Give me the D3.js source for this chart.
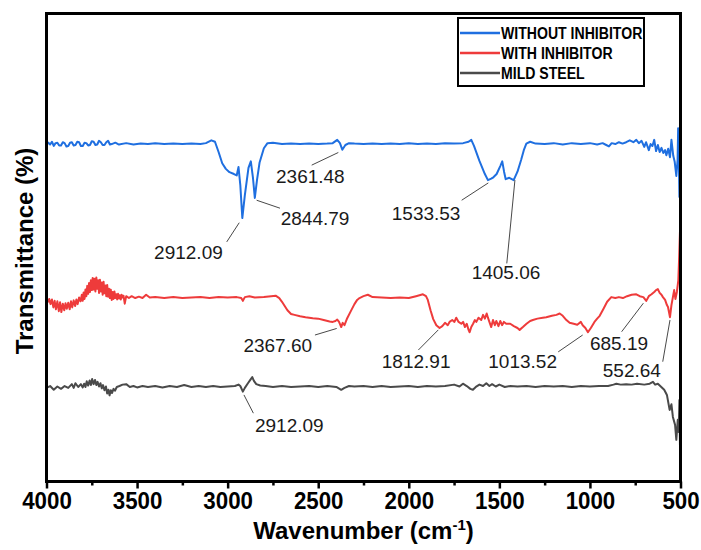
<!DOCTYPE html>
<html>
<head>
<meta charset="utf-8">
<script src="https://cdn.jsdelivr.net/npm/d3@7"></script>
<style>
  body { margin: 0; background: #fff; }
  text { font-family: "Liberation Sans", Arial, sans-serif; }
</style>
</head>
<body>
<div id="chart"></div>
<script>
// FTIR spectra, [wavenumber, transmittance (arb. %)]
var withoutInhibitor = [
  [4000,71.9],[3990,72.4],[3980,72.0],[3970,72.6],[3960,71.7],[3950,72.3],[3940,72.4],[3930,71.8],
  [3920,71.8],[3910,72.5],[3900,72.3],[3890,71.6],[3880,71.7],[3870,72.4],[3860,72.5],[3850,71.8],
  [3840,71.9],[3830,72.6],[3820,72.5],[3810,71.7],[3800,71.7],[3790,72.4],[3780,72.3],[3770,71.8],
  [3760,71.9],[3750,72.7],[3740,72.6],[3730,71.9],[3720,72.0],[3710,72.8],[3700,72.5],[3690,71.9],
  [3680,71.9],[3670,72.5],[3660,72.8],[3650,72.0],[3640,72.1],[3620,72.4],[3600,72.0],[3560,72.3],
  [3520,72.0],[3480,72.2],[3440,72.1],[3400,72.3],[3350,72.1],[3300,72.2],[3250,72.1],[3200,72.2],
  [3150,72.1],[3120,72.3],[3090,72.9],[3070,72.6],[3050,70.4],[3030,68.0],[3010,66.8],[2990,66.1],
  [2965,65.7],[2950,65.4],[2940,67.2],[2930,63.3],[2919,56.3],[2905,61.2],[2885,67.0],[2872,68.4],
  [2860,64.8],[2850,60.6],[2838,64.4],[2824,68.1],[2800,71.2],[2780,72.3],[2750,72.4],[2700,72.1],
  [2650,72.2],[2600,72.1],[2550,72.2],[2500,72.1],[2450,72.2],[2420,72.3],[2395,73.0],[2380,72.3],
  [2367,70.9],[2350,71.9],[2330,72.3],[2300,72.2],[2250,72.1],[2200,72.2],[2150,72.1],[2100,72.2],
  [2050,72.1],[2000,72.3],[1950,72.1],[1900,72.2],[1850,72.1],[1800,72.3],[1750,72.2],[1700,72.3],
  [1670,72.6],[1655,73.0],[1640,71.7],[1610,68.5],[1580,65.7],[1563,64.4],[1545,64.7],[1533,65.0],
  [1515,65.7],[1495,67.4],[1484,68.4],[1474,66.2],[1465,64.6],[1445,64.9],[1421,64.4],[1400,66.2],
  [1380,68.7],[1365,70.8],[1351,72.2],[1330,72.6],[1300,72.2],[1250,72.1],[1200,72.3],[1150,72.0],
  [1100,72.3],[1050,72.1],[1000,72.3],[960,72.0],[930,72.3],[910,71.9],[895,71.6],[880,72.3],
  [860,72.1],[840,72.5],[820,72.2],[800,72.5],[780,72.9],[760,72.5],[744,73.0],[730,72.3],
  [715,72.8],[700,71.5],[690,72.5],[675,70.8],[665,72.1],[655,71.7],[645,73.0],[635,70.6],
  [625,71.9],[615,70.4],[605,71.3],[595,70.2],[585,70.8],[578,69.7],[568,71.1],[558,69.3],
  [550,73.0],[540,69.6],[532,68.3],[523,65.3],[516,68.7],[513,75.5],[510,70.8],[506,60.8],
  [502,63.3],[500,62.3]
];
var withInhibitor = [
  [4000,39.2],[3992,38.4],[3985,39.0],[3978,37.9],[3970,38.9],[3962,37.2],[3955,38.6],[3948,36.8],
  [3940,38.5],[3932,36.4],[3925,38.3],[3918,36.2],[3910,38.0],[3902,36.6],[3895,38.1],[3888,36.9],
  [3880,38.2],[3872,36.8],[3865,38.5],[3858,37.2],[3850,38.7],[3842,37.5],[3835,38.9],[3828,37.9],
  [3820,39.3],[3812,38.5],[3805,39.9],[3800,38.6],[3795,40.4],[3790,39.0],[3785,41.0],[3780,39.6],
  [3775,41.8],[3770,40.1],[3765,42.4],[3760,40.5],[3755,43.0],[3750,40.9],[3745,43.5],[3740,41.0],
  [3735,43.3],[3730,40.6],[3725,43.6],[3720,41.2],[3715,43.0],[3710,40.3],[3705,43.1],[3700,40.6],
  [3695,42.5],[3690,39.9],[3685,42.7],[3680,40.2],[3675,41.9],[3670,39.6],[3665,42.0],[3660,39.5],
  [3655,41.2],[3650,39.2],[3645,41.0],[3640,38.8],[3635,40.5],[3630,39.0],[3625,40.6],[3620,39.2],
  [3615,40.0],[3610,38.9],[3605,40.1],[3600,39.1],[3595,39.8],[3590,38.9],[3585,39.9],[3580,39.3],
  [3575,39.7],[3568,38.0],[3560,39.6],[3545,39.2],[3530,39.6],[3510,39.2],[3490,39.5],[3470,39.2],
  [3450,39.9],[3430,39.3],[3400,39.4],[3350,39.2],[3300,39.4],[3250,39.2],[3200,39.3],[3150,39.4],
  [3100,39.2],[3050,39.4],[3000,39.3],[2950,39.4],[2925,39.2],[2916,38.6],[2905,39.4],[2880,39.6],
  [2850,39.3],[2800,39.4],[2760,39.6],[2735,39.7],[2715,39.2],[2700,38.4],[2685,37.5],[2670,36.6],
  [2650,35.8],[2631,35.6],[2600,35.3],[2570,35.1],[2530,34.9],[2500,34.8],[2470,34.5],[2437,34.2],
  [2420,34.1],[2405,34.3],[2395,34.6],[2385,34.1],[2373,33.0],[2365,33.9],[2355,33.4],[2340,34.9],
  [2320,36.4],[2300,37.9],[2285,38.8],[2272,39.2],[2250,39.6],[2226,39.9],[2200,39.4],[2150,39.3],
  [2100,39.2],[2050,39.3],[2000,39.2],[1960,39.6],[1922,40.0],[1905,39.6],[1895,38.8],[1880,36.6],
  [1865,34.7],[1848,33.4],[1830,32.8],[1815,33.2],[1800,33.9],[1785,33.4],[1775,34.1],[1760,34.5],
  [1748,34.1],[1738,35.0],[1725,34.1],[1710,33.7],[1700,34.1],[1690,33.0],[1680,33.7],[1670,32.4],
  [1664,31.9],[1655,33.0],[1645,33.7],[1635,34.5],[1627,34.1],[1615,35.0],[1600,34.5],[1590,35.6],
  [1580,34.8],[1570,35.9],[1563,35.0],[1555,34.1],[1545,33.0],[1535,34.5],[1525,33.4],[1517,34.3],
  [1505,33.2],[1495,34.3],[1485,33.4],[1475,34.1],[1462,33.7],[1440,33.7],[1420,33.2],[1400,32.8],
  [1388,32.4],[1370,33.0],[1350,33.7],[1330,34.3],[1315,34.5],[1290,34.8],[1260,35.0],[1241,35.1],
  [1210,35.4],[1185,35.6],[1167,35.9],[1150,35.4],[1130,34.5],[1112,33.9],[1090,33.7],[1070,33.5],
  [1050,34.1],[1040,33.4],[1025,32.8],[1011,31.9],[995,32.8],[975,34.1],[960,34.8],[946,35.4],
  [925,36.9],[905,38.4],[882,39.4],[860,39.2],[840,39.4],[818,39.2],[795,39.6],[770,39.9],
  [744,40.0],[725,39.6],[705,39.4],[689,38.6],[675,39.6],[660,40.0],[645,40.5],[635,40.9],
  [625,41.1],[615,40.3],[605,39.9],[597,39.4],[585,38.8],[575,37.7],[569,37.3],[562,35.9],
  [558,35.1],[550,37.7],[542,39.4],[535,40.9],[528,39.0],[520,40.5],[512,43.0],[507,48.4],
  [503,53.3],[500,54.4]
];
var mildSteel = [
  [4000,20.0],[3980,20.4],[3960,19.6],[3940,20.3],[3920,19.8],[3900,20.4],[3880,20.0],[3860,20.8],
  [3850,20.0],[3840,21.0],[3825,20.2],[3810,20.8],[3800,20.1],[3792,20.9],[3785,20.2],[3778,21.4],
  [3770,20.5],[3762,21.6],[3755,20.6],[3748,21.9],[3740,20.8],[3732,21.7],[3725,20.6],[3718,21.3],
  [3710,20.3],[3702,21.0],[3695,19.9],[3688,20.6],[3680,19.5],[3672,20.3],[3665,18.8],[3658,19.6],
  [3652,18.4],[3645,19.5],[3638,18.9],[3630,19.8],[3622,19.4],[3612,20.2],[3597,20.4],[3580,20.7],
  [3560,20.8],[3540,20.2],[3520,20.4],[3500,20.1],[3470,20.4],[3440,20.2],[3400,20.4],[3360,20.1],
  [3320,20.4],[3280,20.2],[3240,20.6],[3200,20.2],[3160,20.4],[3120,20.2],[3080,20.4],[3040,20.2],
  [3000,20.3],[2960,20.4],[2940,20.7],[2930,20.4],[2916,19.2],[2905,20.0],[2888,21.0],[2875,21.7],
  [2864,22.3],[2855,21.5],[2842,20.8],[2820,20.5],[2790,20.4],[2750,20.2],[2700,20.4],[2650,20.2],
  [2600,20.3],[2550,20.4],[2500,20.2],[2450,20.4],[2400,20.2],[2373,19.6],[2355,20.0],[2330,20.4],
  [2300,20.3],[2250,20.4],[2200,20.2],[2150,20.4],[2100,20.2],[2050,20.3],[2000,20.4],[1950,20.2],
  [1900,20.4],[1850,20.3],[1800,20.4],[1750,20.7],[1720,20.3],[1701,20.9],[1680,20.4],[1660,19.8],
  [1646,19.6],[1630,20.2],[1610,20.7],[1590,20.4],[1572,21.0],[1555,20.4],[1540,20.8],[1520,20.3],
  [1500,20.7],[1470,20.2],[1440,20.4],[1400,20.3],[1350,20.4],[1300,20.2],[1250,20.4],[1200,20.3],
  [1150,20.4],[1100,20.2],[1050,20.4],[1000,20.3],[950,20.4],[900,20.4],[870,20.7],[854,20.9],
  [830,20.7],[800,20.8],[770,20.7],[740,20.9],[700,20.7],[670,20.9],[652,21.3],[640,20.7],
  [625,20.9],[606,20.2],[590,19.6],[575,18.5],[560,15.3],[550,16.5],[542,13.8],[530,12.1],
  [523,8.9],[515,13.2],[510,10.6],[506,17.4],[503,7.8],[500,8.9]
];

var seriesNames = ["WITHOUT INHIBITOR", "WITH INHIBITOR", "MILD STEEL"];
var seriesColors = ["#1f6fe0", "#ee3b3b", "#4a4a4a"];
var seriesData = [withoutInhibitor, withInhibitor, mildSteel];

var majorTicks = [4000, 3500, 3000, 2500, 2000, 1500, 1000, 500];
var minorTicks = [3750, 3250, 2750, 2250, 1750, 1250, 750];

// peak labels: leader from (x1,y1) to (x2,y2), text at (tx,ty), all in data units
var peakLabels = [
  {text: "2912.09", x1: 2936, y1: 55.3, x2: 3005, y2: 51.2, tx: 3406, ty: 47.5},
  {text: "2844.79", x1: 2840, y1: 60.1, x2: 2711, y2: 58.4, tx: 2707, ty: 54.8},
  {text: "2361.48", x1: 2389, y1: 70.3, x2: 2536, y2: 67.6, tx: 2733, ty: 63.8},
  {text: "1533.53", x1: 1561, y1: 63.8, x2: 1708, y2: 60.1, tx: 2094, ty: 55.9},
  {text: "1405.06", x1: 1414, y1: 64.4, x2: 1459, y2: 46.6, tx: 1653, ty: 43.3},
  {text: "2367.60", x1: 2398, y1: 32.7, x2: 2518, y2: 31.3, tx: 2913, ty: 27.7},
  {text: "2912.09", x1: 2910, y1: 18.5, x2: 2858, y2: 14.6, tx: 2849, ty: 10.6},
  {text: "1812.91", x1: 1837, y1: 32.4, x2: 1947, y2: 28.1, tx: 2149, ty: 24.2},
  {text: "1013.52", x1: 1040, y1: 31.3, x2: 1175, y2: 27.7, tx: 1561, ty: 24.2},
  {text: "685.19",  x1: 705,  y1: 38.1, x2: 825,  y2: 32.0, tx: 1000, ty: 28.1},
  {text: "552.64",  x1: 558,  y1: 34.5, x2: 598,  y2: 25.6, tx: 929,  ty: 22.3}
];

var margin = {left: 46.5, right: 20.5, top: 13.5, bottom: 68.5},
    width = 701 - margin.left - margin.right,
    height = 550 - margin.top - margin.bottom;

var svg = d3.select("#chart")
    .append("svg")
    .attr("width", 701)
    .attr("height", 550)
    .append("g")
    .attr("transform", "translate(" + margin.left + "," + margin.top + ")");

var x = d3.scaleLinear().domain([4000, 500]).range([0, width]);
var y = d3.scaleLinear().domain([0, 100]).range([height, 0]);

var line = d3.line()
    .x(function (d) { return x(d[0]); })
    .y(function (d) { return y(d[1]); });

// spectra, drawn so blue ends on top
[2, 1, 0].forEach(function (i) {
    svg.append("path")
        .datum(seriesData[i])
        .attr("fill", "none")
        .attr("stroke", seriesColors[i])
        .attr("stroke-width", 2)
        .attr("stroke-linejoin", "round")
        .attr("d", line);
});

// leader lines and labels
svg.selectAll(".leader")
    .data(peakLabels)
    .enter().append("line")
    .attr("class", "leader")
    .attr("x1", function (d) { return x(d.x1); })
    .attr("y1", function (d) { return y(d.y1); })
    .attr("x2", function (d) { return x(d.x2); })
    .attr("y2", function (d) { return y(d.y2); })
    .attr("stroke", "#333")
    .attr("stroke-width", 0.9);

svg.selectAll(".peak")
    .data(peakLabels)
    .enter().append("text")
    .attr("class", "peak")
    .attr("x", function (d) { return x(d.tx); })
    .attr("y", function (d) { return y(d.ty); })
    .attr("font-size", 19)
    .attr("fill", "#1a1a1a")
    .text(function (d) { return d.text; });

// x axis: major + minor ticks
var xAxis = svg.append("g")
    .attr("transform", "translate(0," + height + ")")
    .call(d3.axisBottom(x).tickValues(majorTicks).tickSize(7).tickPadding(3).tickFormat(d3.format("d")));
xAxis.select(".domain").remove();
xAxis.selectAll("line").attr("stroke", "#000").attr("stroke-width", 2.5);
xAxis.selectAll("text")
    .attr("fill", "#000")
    .attr("font-size", 24)
    .attr("font-weight", "bold")
    .attr("transform", "scale(0.93,1)")
    .attr("dy", "0.71em");

var xMinor = svg.append("g")
    .attr("transform", "translate(0," + height + ")")
    .call(d3.axisBottom(x).tickValues(minorTicks).tickSize(4).tickFormat(""));
xMinor.select(".domain").remove();
xMinor.selectAll("line").attr("stroke", "#000").attr("stroke-width", 2.5);

// frame
svg.append("rect")
    .attr("width", width)
    .attr("height", height)
    .attr("fill", "none")
    .attr("stroke", "#000")
    .attr("stroke-width", 3);

// axis titles
var xTitle = svg.append("text")
    .attr("x", width / 2)
    .attr("y", height + 57)
    .attr("text-anchor", "middle")
    .attr("font-size", 24)
    .attr("font-weight", "bold");
xTitle.append("tspan").text("Wavenumber (cm");
xTitle.append("tspan").attr("font-size", 15).attr("dy", -9).text("-1");
xTitle.append("tspan").attr("dy", 9).text(")");

svg.append("text")
    .attr("transform", "translate(-14," + (251 - margin.top) + ") rotate(-90)")
    .attr("text-anchor", "middle")
    .attr("font-size", 24)
    .attr("font-weight", "bold")
    .text("Transmittance (%)");

// legend
var legend = svg.append("g")
    .attr("transform", "translate(" + (458 - margin.left) + "," + (18 - margin.top) + ")");
legend.append("rect")
    .attr("width", 186)
    .attr("height", 68)
    .attr("fill", "#fff")
    .attr("stroke", "#000")
    .attr("stroke-width", 2);
var items = legend.selectAll(".item")
    .data(seriesNames)
    .enter().append("g")
    .attr("class", "item")
    .attr("transform", function (d, i) { return "translate(0," + (15 + i * 20) + ")"; });
items.append("line")
    .attr("x1", 2).attr("x2", 42)
    .attr("stroke", function (d, i) { return seriesColors[i]; })
    .attr("stroke-width", 2.5);
items.append("text")
    .attr("x", 43)
    .attr("y", 6)
    .attr("font-size", 16)
    .attr("font-weight", "bold")
    .text(function (d) { return d; })
    .each(function () {
        var w = this.getComputedTextLength();
        d3.select(this).attr("textLength", w * 0.88).attr("lengthAdjust", "spacingAndGlyphs");
    });
</script>
</body>
</html>
